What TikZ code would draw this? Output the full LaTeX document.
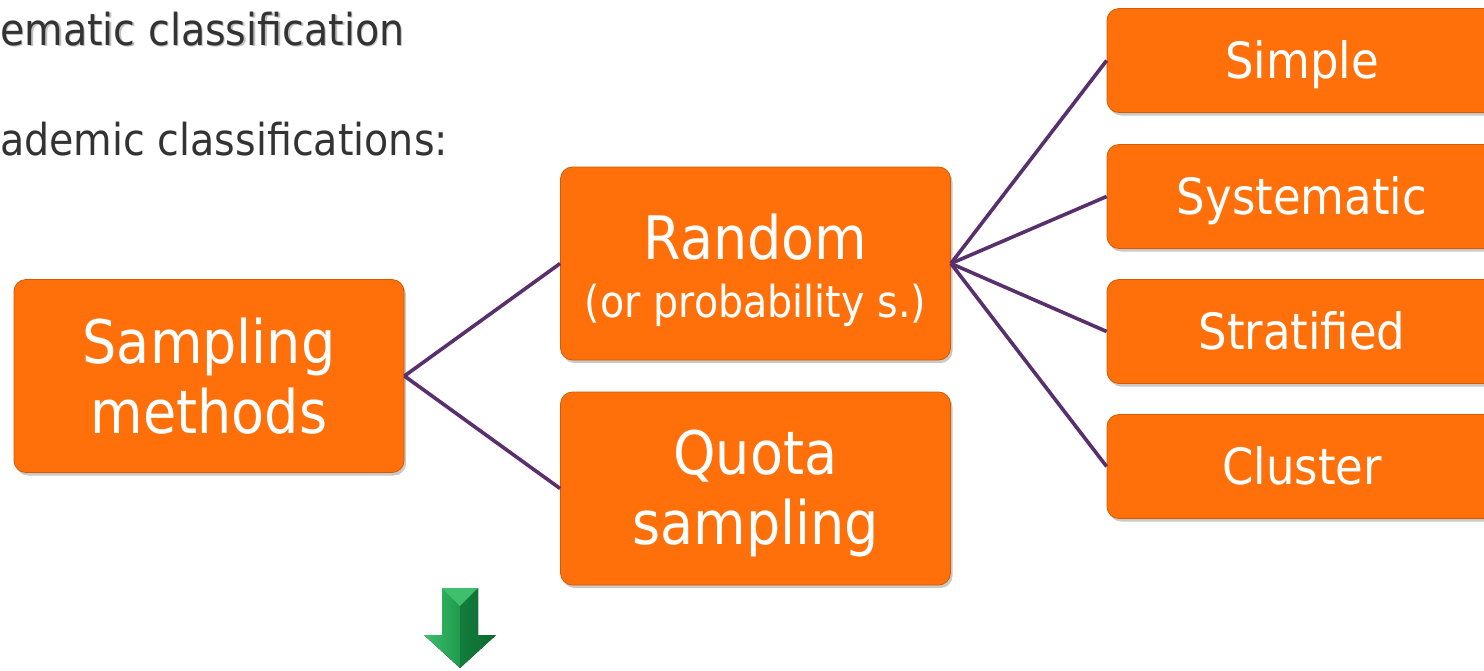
\documentclass[tikz,border=0pt]{standalone}
\usepackage{fontspec}
\setmainfont[FakeStretch=0.9]{DejaVu Sans}
\usetikzlibrary{shadows}
\definecolor{boxorange}{HTML}{FF700A}
\definecolor{boxedge}{HTML}{D05C00}
\definecolor{linkpurple}{HTML}{59306E}
\definecolor{textgray}{HTML}{333333}
\definecolor{arrowlight}{HTML}{3DBF6E}
\definecolor{arrowmid}{HTML}{1F9A4C}
\definecolor{arrowdark}{HTML}{0B6A30}
\tikzset{
  obox/.style={rectangle, rounded corners=12pt, fill=boxorange, draw=boxedge,
    line width=0.8pt, text=white, align=center, inner sep=0pt,
    drop shadow={shadow xshift=2pt, shadow yshift=-3pt, opacity=0.3, fill=black!70}},
  bigbox/.style={obox, minimum width=390pt, minimum height=193pt,
    font=\fontsize{60}{70}\selectfont},
  leafbox/.style={obox, minimum width=390pt, minimum height=104pt,
    text height=40pt, text depth=5pt,
    font=\fontsize{50}{60}\selectfont},
  link/.style={draw=linkpurple, line width=3.6pt},
  bodytext/.style={text=textgray, anchor=base west, inner sep=0pt,
    font=\fontsize{44}{54}\selectfont}
}
\begin{document}
\begin{tikzpicture}[x=1pt,y=1pt]
\useasboundingbox (0,0) rectangle (1484,-670);
\clip (0,0) rectangle (1484,-670);

% heading lines
\node[bodytext, text=black!25] at (1.5,-46.5) {ematic classification};
\node[bodytext] (head1) at (0,-45) {ematic classification};
\node[bodytext] (head2) at (0,-155) {ademic classifications:};

% classification boxes (top struts push the text block slightly down)
\node[bigbox] (samp) at (209,-376) {Sampling\\methods};
\node[bigbox] (rand) at (755.5,-263.5)
  {\rule{0pt}{59pt}Random\\[-12pt]{\fontsize{44}{52}\selectfont (or probability s.)}};
\node[bigbox] (quota) at (755.5,-488.5) {\rule{0pt}{54pt}Quota\\sampling};

\node[leafbox] (simple) at (1302,-60.5) {Simple};
\node[leafbox] (syst) at (1302,-196.5) {Systematic};
\node[leafbox] (strat) at (1302,-331.5) {Stratified};
\node[leafbox] (clust) at (1302,-466.5) {Cluster};

% connectors
\draw[link] (samp.east) -- (rand.west);
\draw[link] (samp.east) -- (quota.west);
\foreach \leaf in {simple,syst,strat,clust}
  \draw[link] (rand.east) -- (\leaf.west);

% green down arrow
\coordinate (tip) at (460,-668);
\fill[left color=arrowlight, right color=arrowdark, middle color=arrowmid]
  (442,-588) -- (478,-588) -- (478,-635) -- (496,-635) -- (tip)
  -- (424,-635) -- (442,-635) -- cycle;
\fill[arrowlight] (442,-588) -- (478,-588) -- (460,-606) -- cycle;
\fill[arrowdark, opacity=0.6] (460,-606) -- (478,-588) -- (478,-635) -- (496,-635) -- (tip) -- cycle;
\end{tikzpicture}
\end{document}
